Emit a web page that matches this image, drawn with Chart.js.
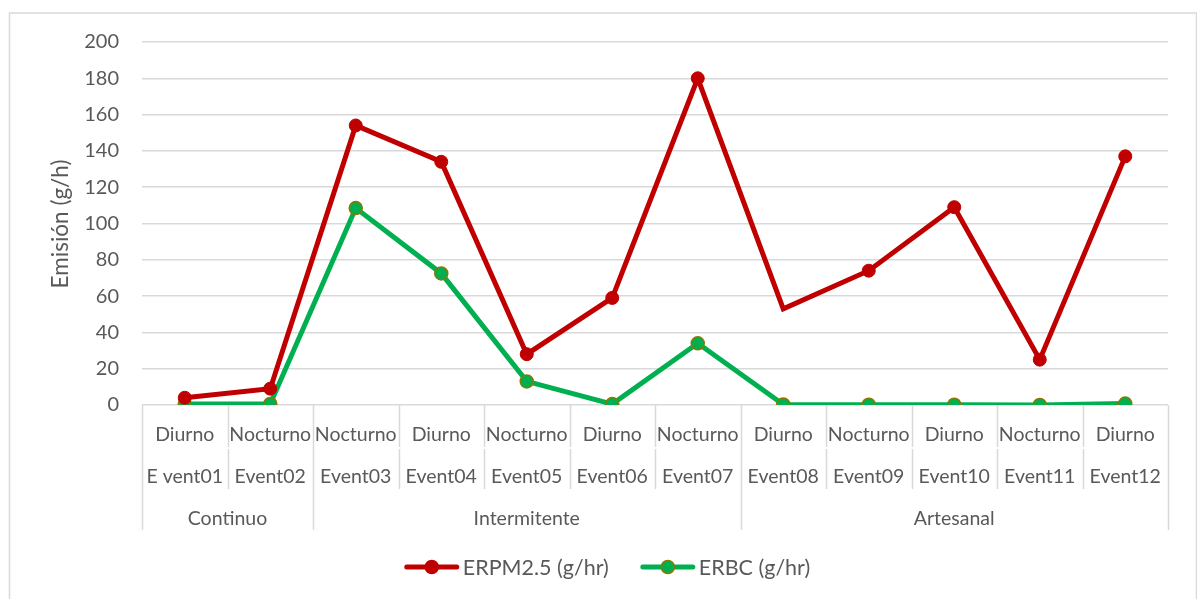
<!DOCTYPE html>
<html>
<head>
<meta charset="utf-8">
<script src="https://cdn.jsdelivr.net/npm/chart.js@4.4.1/dist/chart.umd.min.js"></script>
<style>
  html, body { margin: 0; padding: 0; background: #ffffff; }
  #wrap { position: relative; width: 1197px; height: 599px; }
</style>
</head>
<body>
<div id="wrap"><canvas id="chart"></canvas></div>
<script>
// Category levels of the x axis
const shifts = ['Diurno', 'Nocturno', 'Nocturno', 'Diurno', 'Nocturno', 'Diurno', 'Nocturno', 'Diurno', 'Nocturno', 'Diurno', 'Nocturno', 'Diurno'];
const events = ['E vent01', 'Event02', 'Event03', 'Event04', 'Event05', 'Event06', 'Event07', 'Event08', 'Event09', 'Event10', 'Event11', 'Event12'];
const groupNames = ['Continuo', 'Intermitente', 'Artesanal'];
const groupSizes = [2, 5, 5];

// Emission rates (g/hr)
const erpm25 = [4, 9, 154, 134, 28, 59, 180, 53, 74, 109, 25, 137];
const erbc = [0.5, 0.6, 108.5, 72.5, 13, 0.5, 34, 0.3, 0.2, 0.2, 0, 0.8];

// Y axis ticks
const yTicks = [0, 20, 40, 60, 80, 100, 120, 140, 160, 180, 200];

const TEXT = '#595959';
const GRID = '#d9d9d9';
const FONT = 'Lato, "Open Sans", sans-serif';

// Outer frame, multi-level category axis, y title and legend
const decorations = {
  id: 'decorations',
  beforeDraw(chart) {
    const ctx = chart.ctx;
    ctx.save();
    ctx.strokeStyle = GRID;
    ctx.lineWidth = 1.5;
    ctx.strokeRect(9.5, 13, 1187, 600);
    ctx.restore();
  },
  afterDraw(chart) {
    const ctx = chart.ctx;
    const x = chart.scales.x;
    const base = chart.chartArea.bottom;
    const edge = i => x.getPixelForValue(i - 0.5);

    ctx.save();
    ctx.strokeStyle = GRID;
    ctx.lineWidth = 1.5;

    // group boundaries
    const groupEdges = [0];
    groupSizes.forEach(s => groupEdges.push(groupEdges[groupEdges.length - 1] + s));
    // inner category separators
    for (let i = 0; i <= events.length; i++) {
      const px = Math.round(edge(i)) + 0.5;
      ctx.beginPath();
      if (groupEdges.includes(i)) {
        ctx.moveTo(px, base);
        ctx.lineTo(px, base + 125);
      } else {
        ctx.moveTo(px, base);
        ctx.lineTo(px, base + 42);
        ctx.moveTo(px, base + 44);
        ctx.lineTo(px, base + 84);
      }
      ctx.stroke();
    }

    ctx.fillStyle = TEXT;
    ctx.textAlign = 'center';
    ctx.textBaseline = 'middle';
    ctx.font = '19.5px ' + FONT;
    shifts.forEach((s, i) => ctx.fillText(s, x.getPixelForValue(i), base + 30));
    events.forEach((e, i) => ctx.fillText(e, x.getPixelForValue(i), base + 72));
    groupNames.forEach((g, k) => {
      const cx = (edge(groupEdges[k]) + edge(groupEdges[k + 1])) / 2;
      ctx.fillText(g, cx, base + 114);
    });

    // y axis title
    ctx.save();
    ctx.translate(61, 224);
    ctx.rotate(-Math.PI / 2);
    ctx.font = '22.5px ' + FONT;
    ctx.fillText('Emisión (g/h)', 0, 0);
    ctx.restore();

    // legend
    const items = chart.data.datasets.map(ds => ({
      text: ds.label, color: ds.borderColor, fill: ds.pointBackgroundColor,
      stroke: ds.pointBorderColor
    }));
    ctx.font = '21.5px ' + FONT;
    ctx.textAlign = 'left';
    const lineLen = 54, gap = 4, spacing = 32;
    let total = 0;
    items.forEach((it, k) => {
      it.w = lineLen + gap + ctx.measureText(it.text).width;
      total += it.w + (k ? spacing : 0);
    });
    let lx = 607.5 - total / 2;
    const ly = 567;
    items.forEach(it => {
      ctx.strokeStyle = it.color;
      ctx.lineWidth = 5;
      ctx.lineCap = 'round';
      ctx.beginPath();
      ctx.moveTo(lx + 2, ly);
      ctx.lineTo(lx + lineLen - 2, ly);
      ctx.stroke();
      ctx.beginPath();
      ctx.arc(lx + lineLen / 2, ly, 6.5, 0, Math.PI * 2);
      ctx.fillStyle = it.fill;
      ctx.fill();
      ctx.lineWidth = 1.5;
      ctx.strokeStyle = it.stroke;
      ctx.stroke();
      ctx.fillStyle = TEXT;
      ctx.fillText(it.text, lx + lineLen + gap, ly + 1);
      lx += it.w + spacing;
    });
    ctx.restore();
  }
};

new Chart(document.getElementById('chart'), {
  type: 'line',
  data: {
    labels: events,
    datasets: [
      {
        label: 'ERPM2.5 (g/hr)',
        data: erpm25,
        borderColor: '#c00000',
        backgroundColor: '#c00000',
        pointBackgroundColor: '#c00000',
        pointBorderColor: '#c00000',
        pointBorderWidth: 1,
        pointRadius: [6.5, 6.5, 6.5, 6.5, 6.5, 6.5, 6.5, 0, 6.5, 6.5, 6.5, 6.5],
        borderWidth: 5,
        tension: 0
      },
      {
        label: 'ERBC (g/hr)',
        data: erbc,
        borderColor: '#00b050',
        backgroundColor: '#00b050',
        pointBackgroundColor: '#00b050',
        pointBorderColor: '#8a7800',
        pointBorderWidth: 1.5,
        pointRadius: 6.5,
        borderWidth: 5,
        tension: 0
      }
    ]
  },
  options: {
    responsive: true,
    maintainAspectRatio: false,
    animation: false,
    layout: { padding: { top: 42, right: 29, left: 0, bottom: 0 } },
    plugins: {
      legend: { display: false },
      tooltip: { enabled: false }
    },
    scales: {
      x: {
        type: 'category',
        offset: true,
        grid: { display: false },
        border: { display: false },
        ticks: { display: false },
        afterFit(scale) { scale.height = 194; }
      },
      y: {
        min: 0,
        max: 200,
        afterBuildTicks(scale) { scale.ticks = yTicks.map(v => ({ value: v })); },
        grid: { color: GRID, lineWidth: 1.5, drawTicks: false },
        border: { display: false },
        ticks: {
          padding: 23,
          color: TEXT,
          font: { family: FONT, size: 20 }
        },
        afterFit(scale) { scale.width = 142; }
      }
    }
  },
  plugins: [decorations]
});
</script>
</body>
</html>
